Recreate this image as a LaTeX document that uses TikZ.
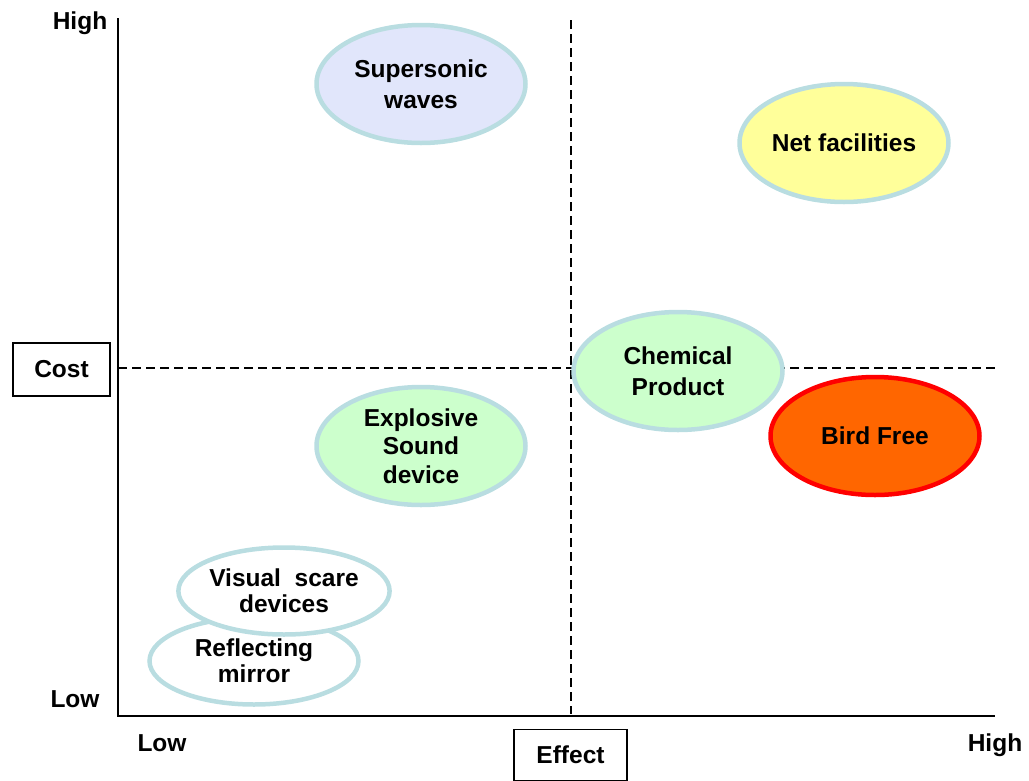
\documentclass[tikz,border=0pt]{standalone}
\usepackage{fontspec}
\setmainfont{Liberation Sans}
\usetikzlibrary{shapes.geometric, positioning}
\definecolor{rimblue}{HTML}{B9DDE1}
\definecolor{lavender}{HTML}{E1E6FB}
\definecolor{paleyellow}{HTML}{FFFF9A}
\definecolor{palegreen}{HTML}{CCFFCC}
\definecolor{birdorange}{HTML}{FF6600}
\definecolor{birdred}{HTML}{FF0000}

\begin{document}
\begin{tikzpicture}[x=1pt, y=-1pt,
    font=\fontsize{24.5}{31}\selectfont\bfseries,
    oval/.style={ellipse, draw=rimblue, line width=4.5pt, minimum width=209pt,
      minimum height=118pt, align=center, inner sep=0pt},
    flat/.style={oval, minimum height=87pt, font=\fontsize{24.5}{26}\selectfont\bfseries},
    tag/.style={draw, line width=1.3pt, minimum width=97pt, minimum height=53pt},
    quad/.style={line width=1.3pt, dash pattern=on 9pt off 5pt}]
    \useasboundingbox (0,0) rectangle (1029,780);
    % axes
    \coordinate (ytop) at (118,18);
    \coordinate (origin) at (118,716);
    \coordinate (xend) at (995,716);
    \draw [line width=1.5pt] (ytop) -- (origin) -- (xend);
    % quadrant lines
    \coordinate (vtop) at (571,20);
    \coordinate (vbot) at (571,714);
    \coordinate (hleft) at (118,368);
    \coordinate (hright) at (995,368);
    \draw [quad] (vtop) -- (vbot);
    \draw [quad] (hleft) -- (hright);
    % axis labels
    \node (yhigh) at (80,23) {High};
    \node (ylow) at (75,699) {Low};
    \node (xlow) at (162,743) {Low};
    \node (xhigh) at (995,745) {High};
    \node (cost) [tag] at (61.5,369.5) {Cost};
    \node (effect) [tag, minimum width=113pt, minimum height=51pt] at (570.5,755) {Effect};
    % methods
    \node (super) [oval, fill=lavender] at (421,84) {Supersonic\\waves};
    \node (net) [oval, fill=paleyellow] at (844,143) {Net facilities};
    \node (chem) [oval, fill=palegreen] at (678,371) {Chemical\\Product};
    \node (bird) [oval, fill=birdorange, draw=birdred] at (875,436) {Bird Free};
    \node (blast) [oval, fill=palegreen, font=\fontsize{24.5}{28.5}\selectfont\bfseries] at (421,446) {Explosive\\Sound\\device};
    \node (mirror) [flat, fill=white] at (254,661) {Reflecting\\mirror};
    \node (scare) [flat, fill=white] at (284,591) {Visual~ scare\\devices};
\end{tikzpicture}
\end{document}
